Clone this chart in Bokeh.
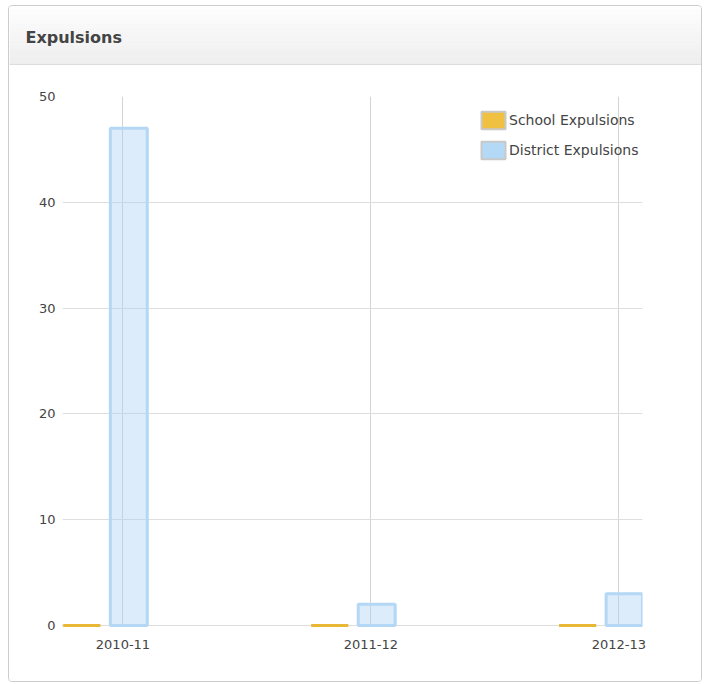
from bokeh.plotting import figure
from bokeh.layouts import column
from bokeh.models import (ColumnDataSource, FixedTicker, Legend, LegendItem,
                          Range1d)
from bokeh.core.properties import value
from bokeh.transform import dodge
from bokeh.embed import file_html
from bokeh.resources import INLINE

# ---- data ----
title_text = "Expulsions"
categories = ["2010-11", "2011-12", "2012-13"]
school_expulsions = [0, 0, 0]
district_expulsions = [47, 2, 3]
y_ticks = [0, 10, 20, 30, 40, 50]
series_names = ["School Expulsions", "District Expulsions"]

FONT = "DejaVu Sans"
TXT = "#444444"
YELLOW = "#f0c040"
BLUE_SWATCH = "#b3d9f7"
BORDER = "#cccccc"

# ---------------- header (panel title bar) ----------------
HW, HH = 692, 59
header = figure(width=HW, height=HH, output_backend="svg", toolbar_location=None,
                x_range=Range1d(0, HW), y_range=Range1d(0, HH),
                min_border=0, min_border_left=0, min_border_right=0,
                min_border_top=0, min_border_bottom=0)
header.frame_align = False
header.axis.visible = False
header.grid.visible = False
header.outline_line_color = None
header.background_fill_color = "white"
header.border_fill_color = "white"

n = 14
bands_b, bands_t, bands_c = [], [], []
for i in range(n):
    t = HH - HH * i / n
    b = HH - HH * (i + 1) / n
    g = int(round(253 - (253 - 238) * i / (n - 1)))
    bands_t.append(t)
    bands_b.append(b - 0.3)
    bands_c.append("#%02x%02x%02x" % (g, g, g))
header.quad(left=0, right=HW, top=bands_t, bottom=bands_b,
            fill_color=bands_c, line_color=None)
header.segment(x0=[0], y0=[0.5], x1=[HW], y1=[0.5], line_color=BORDER,
               line_width=1)
header.text(x=[16], y=[28], text=[title_text], text_font=value(FONT),
            text_font_size="16px", text_font_style="bold", text_color=TXT,
            text_baseline="middle", text_align="left")

# ---------------- main chart ----------------
idx = list(range(len(categories)))
src = ColumnDataSource(dict(idx=idx, cat=categories,
                            school=school_expulsions,
                            district=district_expulsions))

p = figure(width=692, height=616, output_backend="svg", toolbar_location=None,
           x_range=Range1d(-0.244, 2.0956), y_range=Range1d(-0.2, 50),
           min_border_left=53, min_border_right=59,
           min_border_top=31, min_border_bottom=54)
p.frame_align = False
p.outline_line_color = None
p.background_fill_color = "white"
p.border_fill_color = "white"

p.vbar(x=dodge("idx", -0.166, range=p.x_range), top="school", bottom=0,
       width=0.15, source=src, fill_color=YELLOW, line_color="#e8b835",
       line_width=3)
p.vbar(x=dodge("idx", 0.0234, range=p.x_range), top="district", bottom=0,
       width=0.149, source=src, fill_color="#a8d0f5", fill_alpha=0.4,
       line_color="#b3d7f5", line_width=3)

p.xaxis.ticker = FixedTicker(ticks=idx)
p.xaxis.major_label_overrides = {i: c for i, c in zip(idx, categories)}
p.yaxis.ticker = FixedTicker(ticks=y_ticks)
for ax in (p.xaxis[0], p.yaxis[0]):
    ax.axis_line_color = None
    ax.major_tick_line_color = None
    ax.minor_tick_line_color = None
    ax.major_tick_out = 0
    ax.major_tick_in = 0
    ax.major_label_text_font = FONT
    ax.major_label_text_font_size = "13px"
    ax.major_label_text_color = TXT
p.xaxis.major_label_standoff = 12
p.yaxis.major_label_standoff = 7

p.xgrid.grid_line_color = "#d4d4d4"
p.ygrid.grid_line_color = "#dedede"

# legend swatches (one point each, placed outside the view)
r1 = p.vbar(x=[-9], top=[0], width=0.1, fill_color=YELLOW,
            line_color="#c8c8c8", line_width=2)
r2 = p.vbar(x=[-9], top=[0], width=0.1, fill_color=BLUE_SWATCH,
            line_color="#c8c8c8", line_width=2)
legend = Legend(items=[LegendItem(label=series_names[0], renderers=[r1]),
                       LegendItem(label=series_names[1], renderers=[r2])],
                location=(416, 466), orientation="vertical",
                glyph_width=30, glyph_height=22, label_height=22,
                label_standoff=1, spacing=8, padding=0, margin=0,
                border_line_color=None, background_fill_alpha=0,
                label_text_font=FONT, label_text_font_size="14px",
                label_text_color=TXT)
p.add_layout(legend)

layout = column(header, p, spacing=0, margin=(5, 0, 0, 8),
                styles={"border": "1px solid " + BORDER,
                        "border-radius": "4px", "overflow": "hidden"})

open("out.html", "w").write(file_html(layout, INLINE))
